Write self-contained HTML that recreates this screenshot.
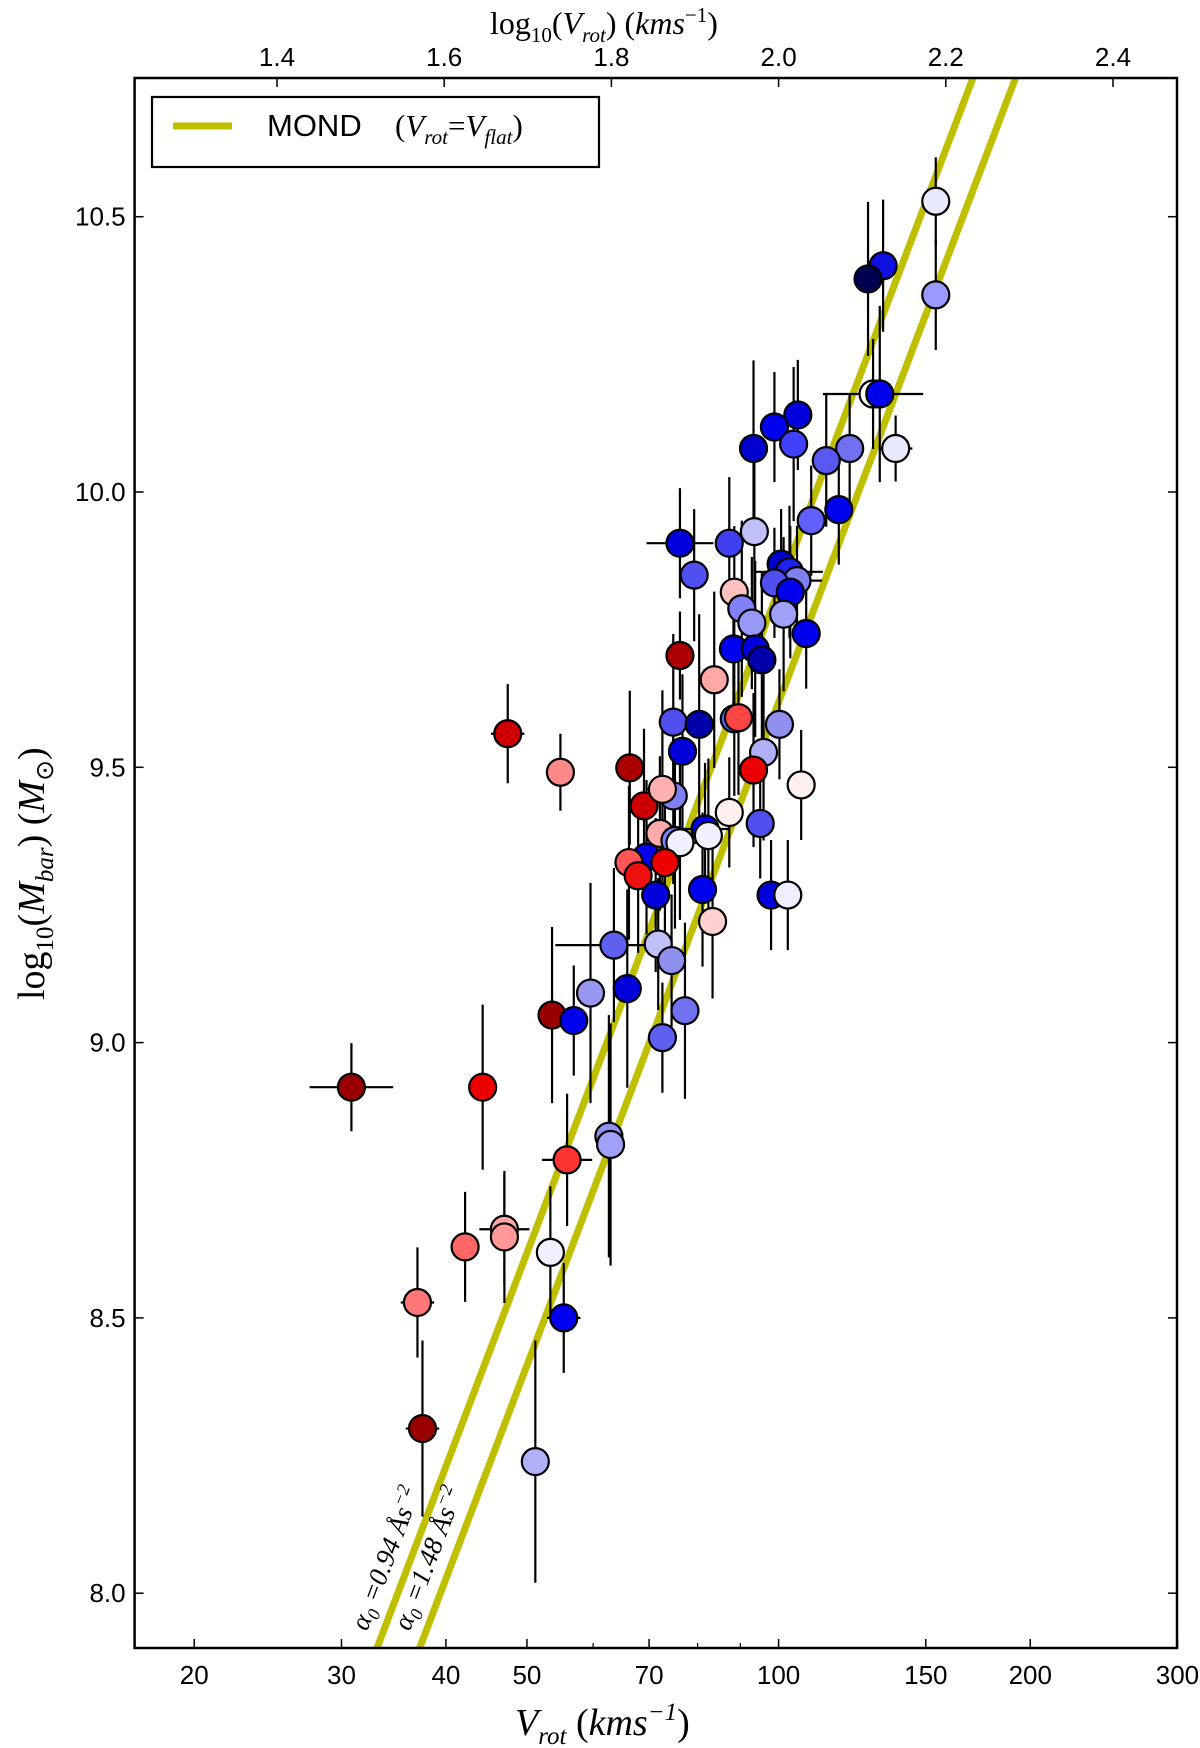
<!DOCTYPE html>
<html><head><meta charset="utf-8">
<style>
html,body{margin:0;padding:0;background:#fff;}
svg{display:block;}
.tk{font-family:"Liberation Sans",sans-serif;font-size:26px;fill:#000;}
.mt{font-family:"Liberation Serif",serif;font-style:italic;fill:#000;}
</style></head>
<body>
<svg id="chart" width="1200" height="1748" viewBox="0 0 1200 1748" xmlns="http://www.w3.org/2000/svg">
<rect x="0" y="0" width="1200" height="1748" fill="#fff"/>
<g id="marks"></g>
<g id="axes"></g>
</svg>
<script>
// data: log10 Vrot, log10 Mbar, errors, colors
const logV = [2.188,2.125,2.107,2.188,2.113,2.121,2.140,2.085,2.057,2.023,1.995,2.018,1.970,2.072,2.039,1.882,1.941,1.971,1.899,1.947,1.956,1.968,2.003,2.013,2.022,1.995,2.014,2.006,2.033,1.946,1.972,1.980,1.882,1.923,1.874,1.905,1.947,1.952,2.001,1.885,1.982,1.822,1.970,2.027,1.676,1.739,1.839,1.874,1.861,1.941,1.978,1.912,1.858,1.876,1.882,1.842,1.821,1.864,1.832,1.916,1.853,1.909,1.991,2.011,1.921,1.856,1.803,1.872,1.775,1.819,1.888,1.861,1.729,1.755,1.489,1.646,1.747,1.797,1.799,1.625,1.672,1.672,1.727,1.568,1.743,1.574,1.709];
const logM = [10.528,10.411,10.387,10.358,10.178,10.178,10.079,10.079,10.057,10.140,10.118,10.087,10.079,9.968,9.948,9.907,9.907,9.928,9.849,9.818,9.788,9.762,9.869,9.855,9.839,9.835,9.818,9.778,9.743,9.715,9.715,9.695,9.703,9.659,9.582,9.578,9.588,9.590,9.578,9.529,9.527,9.499,9.495,9.468,9.561,9.491,9.430,9.448,9.460,9.418,9.398,9.388,9.380,9.367,9.363,9.337,9.327,9.327,9.303,9.376,9.268,9.278,9.268,9.268,9.220,9.179,9.177,9.149,9.090,9.098,9.058,9.009,9.050,9.040,8.919,8.919,8.787,8.830,8.815,8.629,8.661,8.647,8.619,8.528,8.500,8.299,8.239];
const yErr = [0.08,0.12,0.14,0.1,0.1,0.16,0.06,0.1,0.12,0.1,0.1,0.14,0.16,0.1,0.1,0.1,0.12,0.16,0.12,0.12,0.16,0.12,0.1,0.12,0.1,0.1,0.12,0.14,0.1,0.12,0.16,0.16,0.08,0.16,0.16,0.2,0.14,0.14,0.1,0.14,0.16,0.14,0.14,0.1,0.09,0.07,0.14,0.16,0.18,0.1,0.1,0.12,0.14,0.16,0.14,0.14,0.14,0.14,0.14,0.14,0.14,0.14,0.1,0.1,0.14,0.12,0.14,0.12,0.2,0.18,0.16,0.1,0.16,0.1,0.08,0.15,0.12,0.22,0.22,0.1,0.1,0.12,0.12,0.1,0.1,0.16,0.22];
const xErr = [0.01,0.01,0.01,0.01,0.06,0.01,0.02,0.01,0.01,0.01,0.01,0.01,0.01,0.01,0.01,0.04,0.01,0.01,0.01,0.01,0.01,0.01,0.01,0.04,0.03,0.01,0.01,0.01,0.01,0.01,0.01,0.01,0.01,0.01,0.01,0.01,0.01,0.01,0.01,0.01,0.01,0.01,0.01,0.01,0.02,0.01,0.01,0.01,0.02,0.01,0.01,0.03,0.01,0.01,0.02,0.01,0.01,0.01,0.01,0.01,0.01,0.01,0.01,0.01,0.01,0.01,0.07,0.01,0.01,0.01,0.01,0.01,0.01,0.01,0.05,0.01,0.03,0.01,0.01,0.01,0.03,0.01,0.01,0.02,0.02,0.02,0.01];
const colors = ["#e8e8ff","#1010e0","#000050","#9999ff","#ffffff","#0000ee","#e8e8ff","#7070f0","#5858f0","#0000dd","#0000ee","#4040ff","#0000cc","#0000ee","#6060ff","#0000dd","#4040f0","#c0c0f8","#5050f0","#ffc0c0","#8080f8","#9898f8","#0000cc","#2020ee","#8080f0","#5050f0","#0000ee","#a0a0f8","#0000ee","#0000ee","#0000dd","#0000aa","#aa0000","#ffa8a8","#5050f0","#0000aa","#6060f0","#ff4444","#9090f0","#0000dd","#b0b0f8","#aa0000","#ee0000","#fff0f0","#cc0000","#ff8888","#cc0000","#8080f0","#ffb0b0","#fff0f0","#5050f0","#0000ee","#ffaaaa","#8080ff","#f0f0ff","#0000ee","#ff5555","#ee0000","#ee1010","#f0f0ff","#0000dd","#0000ee","#0000dd","#eeeeff","#ffd0d0","#c0c0f8","#6060f0","#9090f0","#9898f0","#0000dd","#7070f0","#6060f0","#990000","#0000ee","#990000","#ee0000","#ff3333","#9090f0","#a0a0f8","#ff6666","#ffaaaa","#ff9999","#f0f0ff","#ff7777","#0000ee","#990000","#b0b0f8"];
const mondIntercepts = [1.822, 1.618];
const mondLabels = ["0.94", "1.48"];
const yTicks = [8.0, 8.5, 9.0, 9.5, 10.0, 10.5];
const topTicks = [1.4, 1.6, 1.8, 2.0, 2.2, 2.4];
const bottomTicks = [20, 30, 40, 50, 70, 100, 150, 200, 300];
const minorTicks = [60, 80, 90];

const L = 134.6, R = 1177, T = 78, B = 1648;
const X = v => 277 + (v - 1.4) * 836;
const Y = m => 216.7 + (10.5 - m) * 550.6;
const mmin = 10.5 - (B - 216.7) / 550.6, mmax = 10.5 - (T - 216.7) / 550.6;
const NS = "http://www.w3.org/2000/svg";
function mk(tag, attrs, parent) {
  const e = document.createElementNS(NS, tag);
  for (const k in attrs) e.setAttribute(k, attrs[k]);
  parent.appendChild(e);
  return e;
}
const svg = document.getElementById('chart');
const marks = document.getElementById('marks');
const axes = document.getElementById('axes');

const defs = mk('defs', {}, svg);
const cp = mk('clipPath', {id: 'clip'}, defs);
mk('rect', {x: L, y: T, width: R - L, height: B - T}, cp);
marks.setAttribute('clip-path', 'url(#clip)');

mondIntercepts.forEach((c, i) => {
  const m1 = mmin - 0.1, m2 = mmax + 0.1;
  const v1 = (m1 - c) / 4, v2 = (m2 - c) / 4;
  const ln = mk('line', {x1: X(v1), y1: Y(m1), x2: X(v2), y2: Y(m2), stroke: '#bfbf00', 'stroke-width': 7}, marks);
  
  
});

logV.forEach((v, i) => {
  const g = mk('g', {}, marks);
  
  
  mk('line', {x1: X(v), x2: X(v), y1: Y(logM[i] - yErr[i]), y2: Y(logM[i] + yErr[i]), stroke: '#000', 'stroke-width': 2.2}, g);
  mk('line', {x1: X(v - xErr[i]), x2: X(v + xErr[i]), y1: Y(logM[i]), y2: Y(logM[i]), stroke: '#000', 'stroke-width': 2.2}, g);
});
logV.forEach((v, i) => {
  const c = mk('circle', {cx: X(v), cy: Y(logM[i]), r: 13.5, fill: colors[i], stroke: '#000', 'stroke-width': 2.2}, marks);
  
  
});

mondIntercepts.forEach((c, i) => {
  const m = 7.93;
  const v = (m - c) / 4;
  const x = X(v) - 16, y = Y(m);
  const t = mk('text', {x: x, y: y, transform: `rotate(-69.2 ${x} ${y})`, class: 'mt', 'font-size': 27}, marks);
  
  
  t.innerHTML = `α<tspan font-size="18" dy="6">0</tspan><tspan dy="-6"> =${mondLabels[i]} Ås</tspan><tspan font-size="18" dy="-11">−2</tspan>`;
});

const fr = mk('rect', {x: L, y: T, width: R - L, height: B - T, fill: 'none', stroke: '#000', 'stroke-width': 2.5}, axes);



yTicks.forEach(m => {
  const y = Y(m);
  mk('line', {x1: L, x2: L + 9, y1: y, y2: y, stroke: '#000', 'stroke-width': 1.5}, axes);
  mk('line', {x1: R, x2: R - 9, y1: y, y2: y, stroke: '#000', 'stroke-width': 1.5}, axes);
  const t = mk('text', {x: L - 9, y: y + 9, 'text-anchor': 'end', class: 'tk'}, axes);
  
  
  t.textContent = m.toFixed(1);
});
topTicks.forEach(v => {
  const x = X(v);
  mk('line', {x1: x, x2: x, y1: T, y2: T + 9, stroke: '#000', 'stroke-width': 1.5}, axes);
  const t = mk('text', {x: x, y: T - 12, 'text-anchor': 'middle', class: 'tk'}, axes);
  
  
  t.textContent = v.toFixed(1);
});
bottomTicks.forEach(v => {
  const x = X(Math.log10(v));
  mk('line', {x1: x, x2: x, y1: B, y2: B - 9, stroke: '#000', 'stroke-width': 1.5}, axes);
  const t = mk('text', {x: x, y: B + 36, 'text-anchor': 'middle', class: 'tk'}, axes);
  
  
  t.textContent = v;
});
minorTicks.forEach(v => {
  const x = X(Math.log10(v));
  mk('line', {x1: x, x2: x, y1: B, y2: B - 5, stroke: '#000', 'stroke-width': 1.2}, axes);
});
</script>
<svg style="position:absolute;left:0;top:0" width="1200" height="1748" xmlns="http://www.w3.org/2000/svg">
<text x="490" y="34" class="mt" font-size="32" style="font-style:normal">log<tspan font-size="21" dy="8">10</tspan><tspan dy="-8">(</tspan><tspan font-style="italic">V</tspan><tspan font-size="21" dy="8" font-style="italic">rot</tspan><tspan dy="-8">)      (</tspan><tspan font-style="italic">kms</tspan><tspan font-size="21" dy="-12">−1</tspan><tspan dy="12">)</tspan></text>
<text x="515" y="1735" class="mt" font-size="38"><tspan font-style="italic">V</tspan><tspan font-size="25" dy="9">rot</tspan><tspan dy="-9" font-style="normal">      (</tspan><tspan>kms</tspan><tspan font-size="25" dy="-15">−1</tspan><tspan dy="15" font-style="normal">)</tspan></text>
<text x="0" y="0" transform="translate(44 1000) rotate(-90)" class="mt" font-size="38" style="font-style:normal">log<tspan font-size="25" dy="9">10</tspan><tspan dy="-9">(</tspan><tspan font-style="italic">M</tspan><tspan font-size="25" dy="9" font-style="italic">bar</tspan><tspan dy="-9">)     (</tspan><tspan font-style="italic">M</tspan><tspan font-size="25" dy="9">⊙</tspan><tspan dy="-9">)</tspan></text>
<g>
<rect x="152" y="97" width="447" height="70" fill="#fff" stroke="#000" stroke-width="2.2"/>
<line x1="173" y1="126" x2="232" y2="126" stroke="#bfbf00" stroke-width="7"/>
<text x="267" y="136" font-family="Liberation Sans, sans-serif" font-size="31">MOND</text>
<text x="395" y="136" class="mt" font-size="31"><tspan font-style="normal">(</tspan>V<tspan font-size="21" dy="8">rot</tspan><tspan dy="-8" font-style="normal">=</tspan>V<tspan font-size="21" dy="8">flat</tspan><tspan dy="-8" font-style="normal">)</tspan></text>
</g>
</svg>
</body></html>
